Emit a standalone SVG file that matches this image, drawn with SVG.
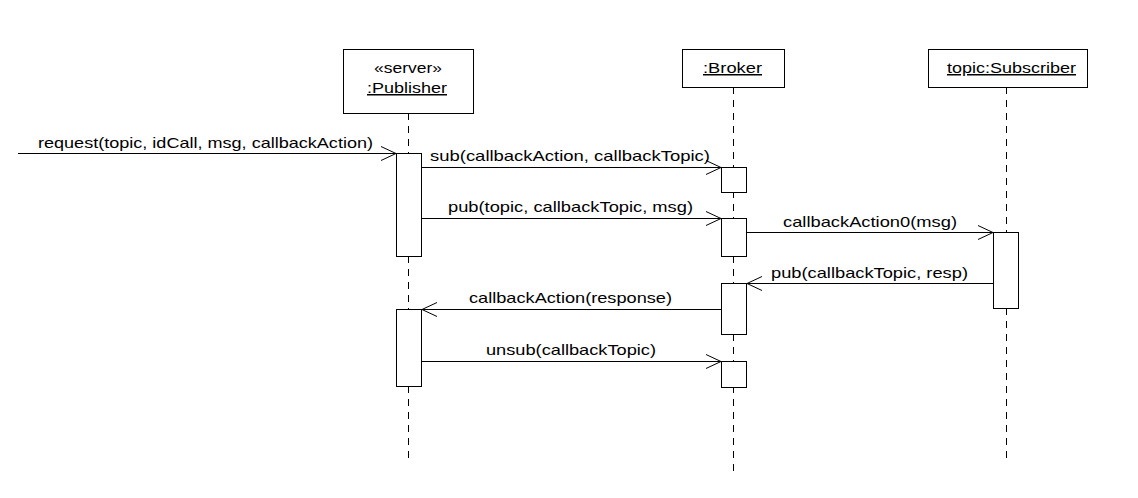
<svg xmlns="http://www.w3.org/2000/svg" width="1138" height="498" viewBox="0 0 1138 498">
<style>
  .box { fill: #ffffff; stroke: #000000; stroke-width: 1; }
  .life { stroke: #000000; stroke-width: 1; stroke-dasharray: 7,6; fill: none; }
  .msg { stroke: #000000; stroke-width: 1; fill: none; marker-end: url(#open); }
  text { font-family: "Liberation Sans", Arial, sans-serif; font-size: 15px; fill: #000000; }
  .u { text-decoration: underline; }
</style>
<defs>
  <marker id="open" markerUnits="userSpaceOnUse" markerWidth="18" markerHeight="16" refX="15" refY="7" orient="auto" overflow="visible">
    <path d="M0,0 L15,7 L0,14" fill="none" stroke="#000000" stroke-width="1"/>
  </marker>
</defs>
<rect width="1138" height="498" fill="#ffffff"/>

<g id="publisher">
  <line class="life" x1="408.5" y1="113" x2="408.5" y2="461"/>
  <rect class="box" x="343.5" y="49.5" width="130" height="64"/>
  <text x="374" y="73" textLength="68" lengthAdjust="spacingAndGlyphs">«server»</text>
  <text class="u" x="367" y="93" textLength="80" lengthAdjust="spacingAndGlyphs">:Publisher</text>
  <rect class="box" x="396.5" y="153.5" width="25" height="103"/>
  <rect class="box" x="396.5" y="309.5" width="25" height="77"/>
</g>

<g id="broker">
  <line class="life" x1="733.5" y1="87" x2="733.5" y2="474"/>
  <rect class="box" x="682.5" y="49.5" width="102" height="38"/>
  <text class="u" x="703" y="73" textLength="59" lengthAdjust="spacingAndGlyphs">:Broker</text>
  <rect class="box" x="721.5" y="167.5" width="25" height="25"/>
  <rect class="box" x="721.5" y="218.5" width="25" height="38"/>
  <rect class="box" x="721.5" y="283.5" width="25" height="51"/>
  <rect class="box" x="721.5" y="361.5" width="25" height="26"/>
</g>

<g id="subscriber">
  <line class="life" x1="1006.5" y1="87" x2="1006.5" y2="461"/>
  <rect class="box" x="928.5" y="49.5" width="159" height="38"/>
  <text class="u" x="947" y="73" textLength="129" lengthAdjust="spacingAndGlyphs">topic:Subscriber</text>
  <rect class="box" x="993.5" y="232.5" width="25" height="76"/>
</g>

<g id="connectors">
  <line class="msg" x1="18" y1="153.5" x2="396" y2="153.5"/>
  <text x="38" y="148" textLength="335" lengthAdjust="spacingAndGlyphs">request(topic, idCall, msg, callbackAction)</text>

  <line class="msg" x1="422" y1="167.5" x2="721" y2="167.5"/>
  <text x="430" y="161" textLength="280" lengthAdjust="spacingAndGlyphs">sub(callbackAction, callbackTopic)</text>

  <line class="msg" x1="422" y1="218.5" x2="721" y2="218.5"/>
  <text x="448" y="212" textLength="245" lengthAdjust="spacingAndGlyphs">pub(topic, callbackTopic, msg)</text>

  <line class="msg" x1="747" y1="232.5" x2="993" y2="232.5"/>
  <text x="783" y="227" textLength="174" lengthAdjust="spacingAndGlyphs">callbackAction0(msg)</text>

  <line class="msg" x1="993" y1="283.5" x2="747" y2="283.5"/>
  <text x="771" y="278" textLength="197" lengthAdjust="spacingAndGlyphs">pub(callbackTopic, resp)</text>

  <line class="msg" x1="721" y1="309.5" x2="422" y2="309.5"/>
  <text x="469" y="303" textLength="203" lengthAdjust="spacingAndGlyphs">callbackAction(response)</text>

  <line class="msg" x1="422" y1="361.5" x2="721" y2="361.5"/>
  <text x="486" y="355" textLength="170" lengthAdjust="spacingAndGlyphs">unsub(callbackTopic)</text>
</g>
</svg>
